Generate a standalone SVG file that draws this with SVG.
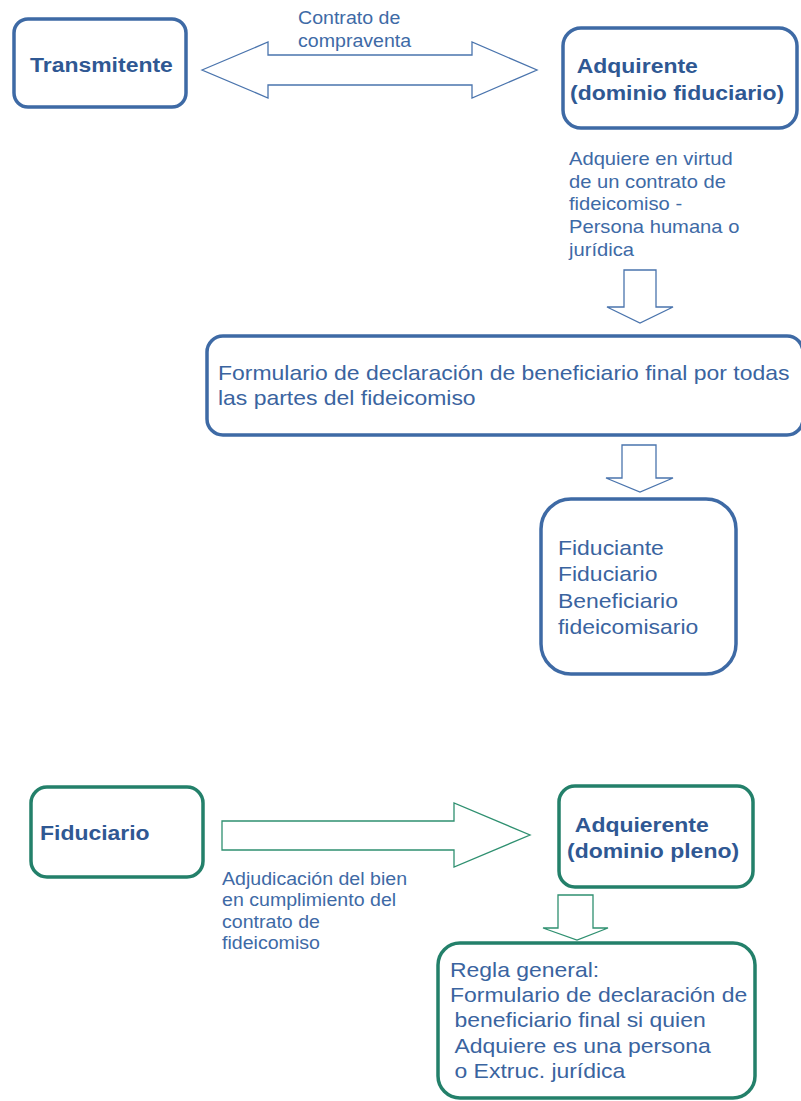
<svg xmlns="http://www.w3.org/2000/svg" width="801" height="1101" viewBox="0 0 801 1101">
<style>
.bg{fill:#ffffff}
.bbox{fill:#ffffff;stroke:#3e6aa5;stroke-width:3.5}
.gbox{fill:#ffffff;stroke:#23806a;stroke-width:3.5}
.barrow{fill:#ffffff;stroke:#4a74ad;stroke-width:1.3;stroke-linejoin:miter}
.garrow{fill:#ffffff;stroke:#2f9070;stroke-width:1.3;stroke-linejoin:miter}
.t{font-family:"Liberation Sans",Arial,sans-serif;font-size:20.5px;fill:#3a64a0}
.tb{font-family:"Liberation Sans",Arial,sans-serif;font-size:20.5px;font-weight:bold;fill:#2f5893}
.ts{font-family:"Liberation Sans",Arial,sans-serif;font-size:17.5px;fill:#3e6aa6}
.tm{font-family:"Liberation Sans",Arial,sans-serif;font-size:18px;fill:#3e6aa6}
</style>
<rect class="bg" x="0" y="0" width="801" height="1101"/>

<g id="connectors">
  <polygon id="arrow-compraventa" class="barrow" points="202,70 268,42 268,55 472,55 472,42 537,70 472,98 472,85 268,85 268,98"/>
  <polygon id="arrow-down-1" class="barrow" points="624,270 656,270 656,307 673,307 640,323 607,307 624,307"/>
  <polygon id="arrow-down-2" class="barrow" points="622,445 656,445 656,478 673,478 640,492 606,478 622,478"/>
  <polygon id="arrow-adjudicacion" class="garrow" points="222,821 454,821 454,803 530,835 454,867 454,850 222,850"/>
  <polygon id="arrow-down-3" class="garrow" points="558,895 593,895 593,928 608,928 577,940 543,928 558,928"/>
  <text class="ts" transform="translate(298 24) scale(1.12 1)"><tspan x="0">Contrato de</tspan><tspan x="0" dy="23">compraventa</tspan></text>
  <text class="tm" transform="translate(569 165) scale(1.12 1)"><tspan x="0">Adquiere en virtud</tspan><tspan x="0" dy="22.7">de un contrato de</tspan><tspan x="0" dy="22.7">fideicomiso -</tspan><tspan x="0" dy="22.7">Persona humana o</tspan><tspan x="0" dy="22.7">jurídica</tspan></text>
  <text class="ts" transform="translate(222 885) scale(1.12 1)"><tspan x="0">Adjudicación del bien</tspan><tspan x="0" dy="21.5">en cumplimiento del</tspan><tspan x="0" dy="21.5">contrato de</tspan><tspan x="0" dy="21.5">fideicomiso</tspan></text>
</g>

<g id="node-transmitente">
  <rect class="bbox" x="14" y="19" width="172" height="88" rx="14"/>
  <text class="tb" transform="translate(30 72) scale(1.12 1)">Transmitente</text>
</g>

<g id="node-adquirente-fiduciario">
  <rect class="bbox" x="563" y="28" width="234" height="100" rx="18"/>
  <text class="tb" transform="translate(570 73) scale(1.12 1)"><tspan x="6">Adquirente</tspan><tspan x="0" dy="27">(dominio fiduciario)</tspan></text>
</g>

<g id="node-formulario">
  <rect class="bbox" x="207" y="336" width="596" height="99" rx="16"/>
  <text class="t" transform="translate(218 380) scale(1.12 1)"><tspan x="0">Formulario de declaración de beneficiario final por todas</tspan><tspan x="0" dy="25">las partes del fideicomiso</tspan></text>
</g>

<g id="node-partes">
  <rect class="bbox" x="541" y="499" width="195" height="175" rx="30"/>
  <text class="t" transform="translate(558 555) scale(1.12 1)"><tspan x="0">Fiduciante</tspan><tspan x="0" dy="26.5">Fiduciario</tspan><tspan x="0" dy="26.5">Beneficiario</tspan><tspan x="0" dy="26.5">fideicomisario</tspan></text>
</g>

<g id="node-fiduciario">
  <rect class="gbox" x="31" y="787" width="172" height="90" rx="16"/>
  <text class="tb" transform="translate(40 840) scale(1.12 1)">Fiduciario</text>
</g>

<g id="node-adquierente-pleno">
  <rect class="gbox" x="559" y="786" width="194" height="101" rx="16"/>
  <text class="tb" transform="translate(567 832) scale(1.12 1)"><tspan x="7">Adquierente</tspan><tspan x="0" dy="26">(dominio pleno)</tspan></text>
</g>

<g id="node-regla">
  <rect class="gbox" x="438" y="943" width="317" height="155" rx="22"/>
  <text class="t" transform="translate(450 977) scale(1.12 1)"><tspan x="0">Regla general:</tspan><tspan x="0" dy="25.2">Formulario de declaración de</tspan><tspan x="4" dy="25.2">beneficiario final si quien</tspan><tspan x="4" dy="25.2">Adquiere es una persona</tspan><tspan x="4" dy="25.2">o Extruc. jurídica</tspan></text>
</g>
</svg>
